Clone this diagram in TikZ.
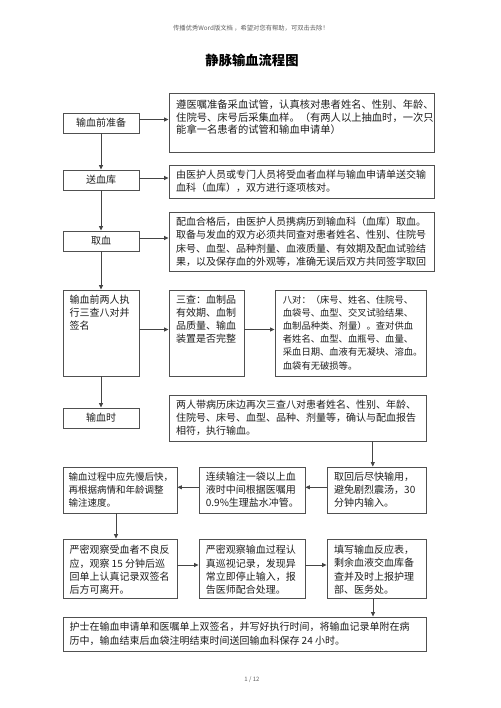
\documentclass[tikz,border=0pt]{standalone}
\usepackage{fontspec}
\newfontfamily\cjk{Noto Sans CJK SC}
\usetikzlibrary{fit,arrows.meta}
\definecolor{bordergray}{HTML}{505050}
\definecolor{linegray}{HTML}{454545}
\definecolor{textblack}{HTML}{1E1E1E}
\definecolor{headgray}{HTML}{606060}
\tikzset{
  box/.style={draw=bordergray, line width=0.9pt, inner sep=0pt, rectangle},
  txt/.style={anchor=north west, inner sep=0pt, align=left, text=textblack, font=\cjk\fontsize{10}{13.2}\selectfont},
  lbl/.style={inner sep=0pt, text=textblack, font=\cjk\fontsize{10}{12}\selectfont},
  conn/.style={draw=linegray, line width=0.8pt, -{Triangle[length=4.5pt,width=4pt]}},
  headtxt/.style={inner sep=0pt, text=headgray, font=\cjk\fontsize{6.3}{7}\selectfont},
  titletxt/.style={inner sep=0pt, text=black, font=\cjk\bfseries\fontsize{13.3}{15}\selectfont},
}
\begin{document}
\begin{tikzpicture}[x=1pt,y=-1pt]
\useasboundingbox (0,0) rectangle (500,708);
\fill[white] (0,0) rectangle (500,708);

\node[headtxt] (hdr) at (251,28) {传播优秀Word版文档 ，希望对您有帮助，可双击去除！};
\node[titletxt] (ttl) at (252,60) {静脉输血流程图};

% boxes
\node[box, fit={(63,113) (139,133)}] (pre) {};
\node[box, fit={(169,93) (434,152)}] (b1) {};
\node[box, fit={(63,170) (139,190)}] (song) {};
\node[box, fit={(169,165) (434,198)}] (b2) {};
\node[box, fit={(63,231) (139,251)}] (qu) {};
\node[box, fit={(169,212) (434,271)}] (b3) {};
\node[box, fit={(63,290) (139,376)}] (check) {};
\node[box, fit={(169,290) (244,376)}] (sancha) {};
\node[box, fit={(275,290) (426,376)}] (badui) {};
\node[box, fit={(63,408) (139,428)}] (shi) {};
\node[box, fit={(169,395) (426,441)}] (b5) {};
\node[box, fit={(63,467) (177,513)}] (ba) {};
\node[box, fit={(199,467) (305,513)}] (bb) {};
\node[box, fit={(327,467) (426,513)}] (bc) {};
\node[box, fit={(63,539) (177,598)}] (bd) {};
\node[box, fit={(199,539) (305,598)}] (be) {};
\node[box, fit={(327,539) (426,598)}] (bf) {};
\node[box, fit={(63,617) (426,651)}] (fin) {};

% centred labels
\node[lbl] (pret) at (pre.center) {输血前准备};
\node[lbl] (songt) at (song.center) {送血库};
\node[lbl] (qut) at (qu.center) {取血};
\node[lbl] (shit) at (shi.center) {输血时};

% texts
\node[txt, font=\cjk\fontsize{10.3}{12.3}\selectfont] (t1) at (176,100) {遵医嘱准备采血试管，认真核对患者姓名、性别、年龄、\\住院号、床号后采集血样。（有两人以上抽血时，一次只\\能拿一名患者的试管和输血申请单）};
\node[txt, font=\cjk\fontsize{10}{13.3}\selectfont] (t2) at (176,170) {由医护人员或专门人员将受血者血样与输血申请单送交输\\血科（血库），双方进行逐项核对。};
\node[txt, font=\cjk\fontsize{10}{13.3}\selectfont] (t3) at (176,216.7) {配血合格后，由医护人员携病历到输血科（血库）取血。\\取备与发血的双方必须共同查对患者姓名、性别、住院号\\床号、血型、品种剂量、血液质量、有效期及配血试验结\\果，以及保存血的外观等，准确无误后双方共同签字取回};
\node[txt, font=\cjk\fontsize{10}{13}\selectfont] (tcheck) at (69.3,295) {输血前两人执\\行三查八对并\\签名};
\node[txt, font=\cjk\fontsize{10}{13.1}\selectfont] (tsan) at (176,295) {三查：血制品\\有效期、血制\\品质量、输血\\装置是否完整};
\node[txt, font=\cjk\fontsize{9.3}{13.2}\selectfont] (tba) at (282.7,295) {八对：（床号、姓名、住院号、\\血袋号、血型、交叉试验结果、\\血制品种类、剂量）。查对供血\\者姓名、血型、血瓶号、血量、\\采血日期、血液有无凝块、溶血。\\血袋有无破损等。};
\node[txt, font=\cjk\fontsize{10}{13}\selectfont] (t5) at (176,400) {两人带病历床边再次三查八对患者姓名、性别、年龄、\\住院号、床号、血型、品种、剂量等，确认与配血报告\\相符，执行输血。};
\node[txt, font=\cjk\fontsize{9.5}{13}\selectfont] (ta) at (68.5,472.3) {输血过程中应先慢后快，\\再根据病情和年龄调整\\输注速度。};
\node[txt, font=\cjk\fontsize{10}{13}\selectfont] (tb) at (205.7,472.3) {连续输注一袋以上血\\液时中间根据医嘱用\\0.9\%生理盐水冲管。};
\node[txt, font=\cjk\fontsize{10}{13}\selectfont] (tc) at (334,472.3) {取回后尽快输用，\\避免剧烈震汤，30\\分钟内输入。};
\node[txt, font=\cjk\fontsize{10}{13.3}\selectfont] (td) at (69.3,545) {严密观察受血者不良反\\应，观察 15 分钟后巡\\回单上认真记录双签名\\后方可离开。};
\node[txt, font=\cjk\fontsize{10}{13.3}\selectfont] (te) at (205.7,545) {严密观察输血过程认\\真巡视记录，发现异\\常立即停止输入，报\\告医师配合处理。};
\node[txt, font=\cjk\fontsize{10}{13.3}\selectfont] (tf) at (334,545) {填写输血反应表，\\剩余血液交血库备\\查并及时上报护理\\部、医务处。};
\node[txt, font=\cjk\fontsize{10}{13.7}\selectfont] (tfin) at (69.3,622.3) {护士在输血申请单和医嘱单上双签名，并写好执行时间，将输血记录单附在病\\历中，输血结束后血袋注明结束时间送回输血科保存 24 小时。};

\node[headtxt, font=\cjk\fontsize{6}{7}\selectfont] (pg) at (252,680) {1 / 12};

% connectors
\coordinate (c1) at ([yshift=3.5pt]pre.east);
\draw[conn] (c1) -- (c1 -| b1.west);
\coordinate (c2) at ([yshift=2pt]song.east);
\draw[conn] (c2) -- (c2 -| b2.west);
\coordinate (c3) at ([yshift=3pt]qu.east);
\draw[conn] (c3) -- (c3 -| b3.west);
\coordinate (c4) at ([yshift=3.5pt]check.east);
\draw[conn] (c4) -- (c4 -| sancha.west);
\coordinate (c4b) at ([yshift=3.5pt]sancha.east);
\draw[conn] (c4b) -- (c4b -| badui.west);

\draw[conn] (pre.south) -- (song.north);
\draw[conn] (song.south) -- (qu.north);
\draw[conn] (qu.south) -- (check.north);
\draw[conn] (check.south) -- (shi.north);

\coordinate (c5) at ([xshift=-3.7pt]bc.north);
\draw[conn] (c5 |- b5.south) -- (c5);
\coordinate (c6) at ([yshift=2.7pt]bc.west);
\draw[conn] (c6) -- (c6 -| bb.east);
\coordinate (c7) at ([yshift=2.7pt]bb.west);
\draw[conn] (c7) -- (c7 -| ba.east);
\coordinate (c8) at ([xshift=-4pt]ba.south);
\draw[conn] (c8) -- (c8 |- bd.north);
\coordinate (c9) at ([yshift=3.5pt]bd.east);
\draw[conn] (c9) -- (c9 -| be.west);
\coordinate (c10) at ([yshift=3.5pt]be.east);
\draw[conn] (c10) -- (c10 -| bf.west);
\coordinate (c11) at ([xshift=-3.5pt]bf.south);
\draw[conn] (c11) -- (c11 |- fin.north);
\end{tikzpicture}
\end{document}
